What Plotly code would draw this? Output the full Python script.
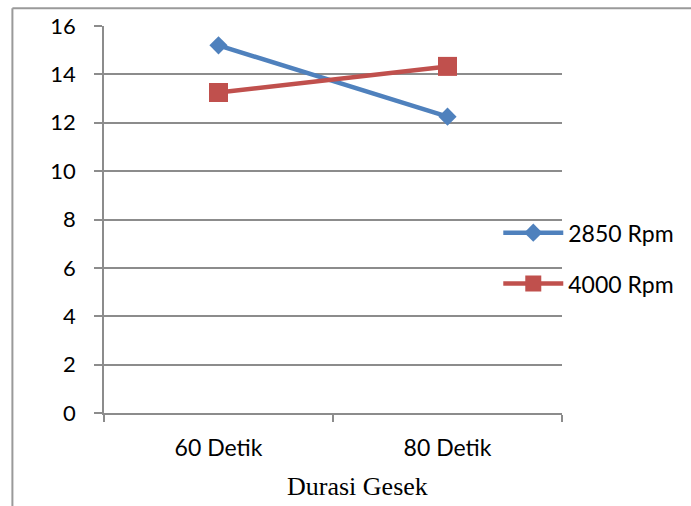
import plotly.graph_objects as go

categories = ["60 Detik", "80 Detik"]
rpm_2850 = [15.2, 12.25]
rpm_4000 = [13.25, 14.33]
series_names = ["2850 Rpm", "4000 Rpm"]
y_ticks = [0, 2, 4, 6, 8, 10, 12, 14, 16]
x_title = "Durasi Gesek"

BLUE = "#4F81BD"
RED = "#C0504D"
GRID = "#8C8C8C"
FONT = "Lato, Carlito, 'Liberation Sans', sans-serif"

fig = go.Figure()
fig.add_trace(go.Scatter(
    x=categories, y=rpm_2850, name=series_names[0], mode="lines+markers",
    line=dict(color=BLUE, width=4.5),
    marker=dict(symbol="diamond", size=14, color=BLUE),
    legendgroup="a",
))
fig.add_trace(go.Scatter(
    x=categories, y=rpm_4000, name=series_names[1], mode="lines+markers",
    line=dict(color=RED, width=4.5),
    marker=dict(symbol="square", size=19, color=RED),
    legendgroup="b",
))

W, H = 691, 506
L, R, T, B = 104, 127, 23, 93
pw, ph = W - L - R, H - T - B

def px_to_paper_x(px):
    return (px - L) / pw

def px_to_paper_y(py):
    return (H - B - py) / ph

# outer frame (top and left border lines)
fig.add_shape(type="line", xref="paper", yref="paper",
              x0=px_to_paper_x(12), x1=px_to_paper_x(700),
              y0=px_to_paper_y(5), y1=px_to_paper_y(5),
              line=dict(color="#9A9A9A", width=2))
fig.add_shape(type="line", xref="paper", yref="paper",
              x0=px_to_paper_x(12), x1=px_to_paper_x(12),
              y0=px_to_paper_y(5), y1=px_to_paper_y(520),
              line=dict(color="#9A9A9A", width=2))

# x axis title (offset right as in the original)
fig.add_annotation(
    text=x_title, xref="paper", yref="paper",
    x=px_to_paper_x(359), y=px_to_paper_y(487),
    xanchor="center", yanchor="middle", showarrow=False,
    font=dict(family="'Liberation Serif', 'Times New Roman', serif", size=26, color="black"),
)

fig.update_layout(
    width=W, height=H,
    margin=dict(l=L, r=R, t=T, b=B),
    paper_bgcolor="white", plot_bgcolor="white",
    font=dict(family=FONT, size=22, color="black"),
    showlegend=True,
    legend=dict(
        x=px_to_paper_x(500), xanchor="left",
        y=px_to_paper_y(257), yanchor="middle",
        bgcolor="rgba(0,0,0,0)",
        font=dict(family=FONT, size=23, color="black"),
        itemwidth=60,
        tracegroupgap=18,
        traceorder="grouped",
    ),
    xaxis=dict(
        type="category",
        range=[-0.5, 1.5],
        tickson="boundaries",
        ticks="outside", ticklen=7, tickcolor=GRID, tickwidth=1.5,
        showgrid=False,
        showline=True, linecolor=GRID, linewidth=1.5,
        tickfont=dict(family=FONT, size=23),
        ticklabelstandoff=14,
        zeroline=False,
    ),
    yaxis=dict(
        range=[0, 16],
        tickvals=y_ticks,
        ticks="outside", ticklen=8, tickcolor=GRID, tickwidth=1.5,
        showgrid=True, gridcolor=GRID, gridwidth=1.5,
        showline=True, linecolor=GRID, linewidth=1.5,
        zeroline=False,
        tickfont=dict(family=FONT, size=22),
        ticklabelstandoff=14,
    ),
)

fig.write_html("out.html", config={"displayModeBar": False},
               post_script="document.body.style.margin='0';document.body.style.overflow='hidden';")
